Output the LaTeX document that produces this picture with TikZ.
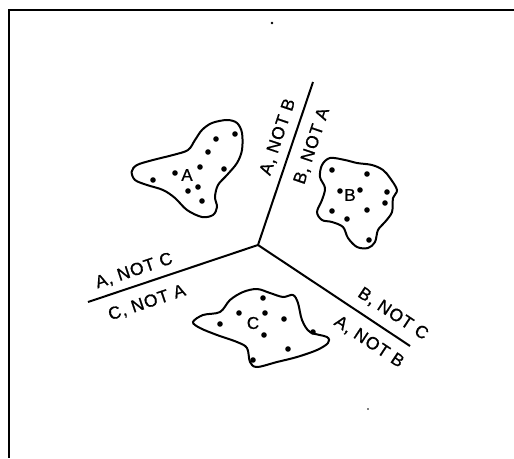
\documentclass[tikz,border=0pt]{standalone}
\usepackage{fontspec}
\setmainfont{Liberation Sans}[FakeBold=0.8,LetterSpace=5]
\begin{document}
\begin{tikzpicture}[x=1pt,y=-1pt,
  frame/.style={line width=2.8pt},
  divider/.style={line width=2pt},
  blob/.style={line width=2pt, smooth cycle, tension=0.55},
  pt/.style={fill=black},
  lbl/.style={font=\fontsize{17.5}{20}\selectfont, inner sep=0pt},
  setlbl/.style={font=\fontsize{17}{20}\selectfont, inner sep=0pt}]
\useasboundingbox (0,0) rectangle (514,458);
% frame (only top and left edges visible)
\coordinate (F0) at (9,10);
\coordinate (F1) at (514,10);
\coordinate (F2) at (9,458);
\draw[frame] (F1) -- (F0) -- (F2);
% dividers
\coordinate (O) at (258,245);
\coordinate (E1) at (313,82);
\coordinate (E2) at (88,302);
\coordinate (E3) at (410,346);
\draw[divider] (O) -- (E1);
\draw[divider] (O) -- (E2);
\draw[divider] (O) -- (E3);
% divider labels
\node[lbl, rotate=71.4] (l1) at (278,137) {A, NOT B};
\node[lbl, rotate=71.4] (l2) at (312,146) {B, NOT A};
\node[lbl, rotate=18.5] (l3) at (134,271) {A, NOT C};
\node[lbl, rotate=18.5] (l4) at (147,303) {C, NOT A};
\node[lbl, rotate=-33.6] (l5) at (393,314) {B, NOT C};
\node[lbl, rotate=-33.6] (l6) at (369,342) {A, NOT B};
% blob A
\draw[blob] plot coordinates {(131.7,171.7) (137,165) (153,160) (173,155) (188,150) (195,140) (202,130) (212,123) (227,120) (237,123) (242,133) (242,150) (237,163) (227,175) (218,185) (215,197) (217,207) (213,215) (202,217) (187,210) (175,198) (163,190) (147,185) (135,180)};
\foreach \p in {(235,134),(216,139),(208,152),(200,167),(224,169),(175,173),(153,180),(198,187),(188,191),(202,201)}
  \fill[pt] \p circle (2.8);
\node[setlbl] (A) at (187,175) {A};
% blob B
\draw[blob] plot coordinates {(322,165) (330,158) (345,160) (357,163) (372,165) (383,170) (390,178) (397,190) (393,198) (392,212) (385,222) (378,230) (375,242) (368,248) (357,247) (348,238) (343,227) (332,222) (322,220) (317,212) (322,200) (325,188) (320,177)};
\foreach \p in {(332,170),(367,174),(340,191),(360,190),(387,192),(385,203),(332,211),(367,210),(347,219),(369,240)}
  \fill[pt] \p circle (2.8);
\node[setlbl] (B) at (350,195) {B};
% blob C
\draw[blob] plot coordinates {(193,322) (203,315) (220,312) (230,300) (243,292) (257,289) (270,293) (283,297) (293,295) (298,303) (302,320) (310,332) (327,337) (328,343) (317,350) (297,357) (277,362) (257,367) (250,362) (247,348) (237,342) (217,335) (200,328)};
\foreach \p in {(263,298),(239,313),(265,313),(220,324),(284,319),(264,335),(313,332),(288,349),(253,360)}
  \fill[pt] \p circle (2.8);
\node[setlbl] (C) at (253,323) {C};
% specks
\fill (272,23) circle (1.3);
\fill (368,409) circle (0.8);
\end{tikzpicture}
\end{document}
